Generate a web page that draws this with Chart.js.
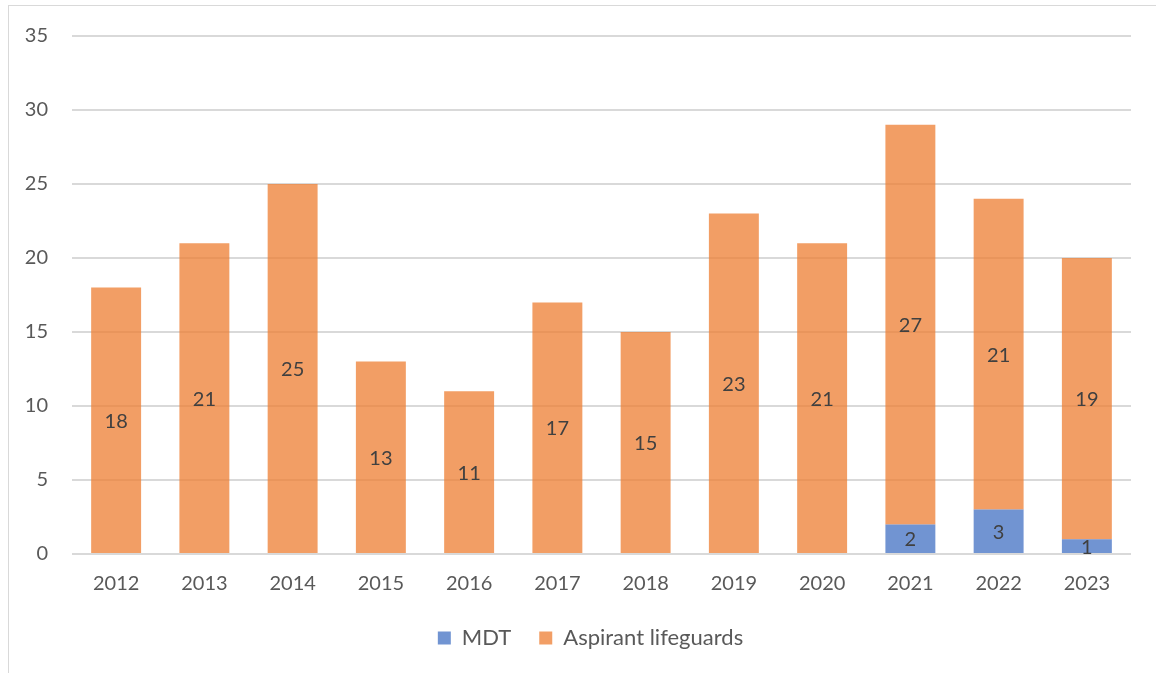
<!DOCTYPE html>
<html>
<head>
<meta charset="utf-8">
<script src="https://cdn.jsdelivr.net/npm/chart.js@4.4.1/dist/chart.umd.min.js"></script>
<style>
  html, body { margin: 0; padding: 0; background: #ffffff; }
  #frame { position: absolute; left: 8px; top: 5px; width: 1200px; height: 700px; border: 1px solid #d9d9d9; box-sizing: border-box; }
  #wrap { position: absolute; left: 0; top: 0; width: 1156px; height: 673px; }
</style>
</head>
<body>
<div id="frame"></div>
<div id="wrap"><canvas id="c" width="1156" height="673"></canvas></div>
<script>
const categories = ["2012","2013","2014","2015","2016","2017","2018","2019","2020","2021","2022","2023"];
const mdtValues = [0,0,0,0,0,0,0,0,0,2,3,1];
const aspirantValues = [18,21,25,13,11,17,15,23,21,27,21,19];
const yTicks = [0,5,10,15,20,25,30,35];

const FONT = "Lato, 'Open Sans', sans-serif";
const TEXT = "#595959";

const segmentLabels = {
  id: 'segmentLabels',
  afterDatasetsDraw(chart) {
    const ctx = chart.ctx;
    ctx.save();
    ctx.font = "20px " + FONT;
    ctx.fillStyle = "#404040";
    ctx.textAlign = "center";
    ctx.textBaseline = "middle";
    chart.data.datasets.forEach((ds, di) => {
      const meta = chart.getDatasetMeta(di);
      meta.data.forEach((bar, i) => {
        const v = ds.data[i];
        if (!v) return;
        const yc = (bar.y + bar.base) / 2;
        ctx.fillText(String(v), bar.x, yc + 1);
      });
    });
    ctx.restore();
  }
};

const legendShift = {
  id: 'legendShift',
  afterLayout(chart) {
    if (chart.legend) {
      chart.legend.left += 20;
      chart.legend.right += 20;
    }
  }
};

new Chart(document.getElementById('c'), {
  type: 'bar',
  data: {
    labels: categories,
    datasets: [
      { label: 'MDT', data: mdtValues, backgroundColor: 'rgba(68,114,196,0.76)', borderWidth: 0 },
      { label: 'Aspirant lifeguards', data: aspirantValues, backgroundColor: 'rgba(237,125,49,0.75)', borderWidth: 0 }
    ]
  },
  options: {
    responsive: false,
    animation: false,
    devicePixelRatio: 1,
    layout: { padding: { left: 10, right: 25, top: 22, bottom: 14 } },
    datasets: { bar: { categoryPercentage: 1.0, barPercentage: 0.566 } },
    scales: {
      x: {
        stacked: true,
        afterFit(scale) { scale.height = 45; },
        grid: { display: false, drawTicks: false },
        border: { display: false },
        ticks: { color: TEXT, font: { family: FONT, size: 20 }, padding: 18, maxRotation: 0 }
      },
      y: {
        stacked: true,
        min: 0, max: 35,
        afterBuildTicks(scale) { scale.ticks = yTicks.map(v => ({ value: v })); },
        afterFit(scale) { scale.width = 62; },
        grid: { color: '#d9d9d9', lineWidth: 2, drawTicks: false },
        border: { display: false },
        ticks: { color: TEXT, font: { family: FONT, size: 20 }, padding: 24 }
      }
    },
    plugins: {
      legend: {
        position: 'bottom',
        labels: { color: TEXT, font: { family: FONT, size: 22 }, boxWidth: 13, boxHeight: 13, padding: 28 }
      },
      tooltip: { enabled: false }
    }
  },
  plugins: [segmentLabels, legendShift]
});
</script>
</body>
</html>
